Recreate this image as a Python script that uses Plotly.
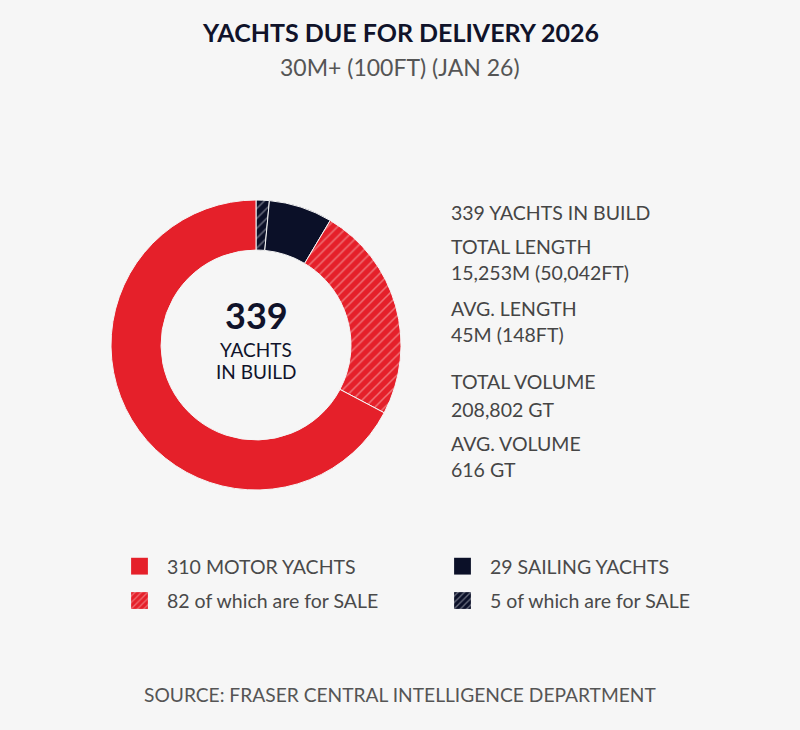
import plotly.graph_objects as go

# ---- data ----
slice_labels = ["Sailing yachts for sale", "Sailing yachts (other)", "Motor yachts for sale", "Motor yachts (other)"]
slice_values = [5, 24, 82, 228]
motor_total = 310
motor_sale = 82
sailing_total = 29
sailing_sale = 5
total_built = 339
stat_lines = ["339 YACHTS IN BUILD", "TOTAL LENGTH", "15,253M (50,042FT)", "AVG. LENGTH", "45M (148FT)",
              "TOTAL VOLUME", "208,802 GT", "AVG. VOLUME", "616 GT"]
stat_y_px = [213, 246, 272, 308, 334, 382, 409, 443, 469]

RED = "#e5202a"
NAVY = "#0b1028"
BG = "#f6f6f6"
W, H = 800, 730
FONT = "Lato"

fig = go.Figure()

# donut
cx, cy, r = 256, 345, 145
fig.add_trace(go.Pie(
    labels=slice_labels, values=slice_values, sort=False, direction="clockwise", rotation=0,
    hole=0.655, textinfo="none", showlegend=False,
    domain=dict(x=[(cx - r) / W, (cx + r) / W], y=[(H - cy - r) / H, (H - cy + r) / H]),
    marker=dict(colors=[NAVY, NAVY, RED, RED],
                line=dict(color=BG, width=1),
                pattern=dict(shape=["/", "", "/", ""], fgcolor=["#c8cad2", NAVY, "#f9c2c2", RED],
                             fillmode="overlay", size=7, solidity=0.22)),
))

# legend icon traces (zero-height bars on a hidden axis)
leg_items = [
    (f"{motor_total} MOTOR YACHTS", RED, "", RED, "legend"),
    (f"{motor_sale} of which are for SALE", RED, "/", "#f6b3b3", "legend"),
    (f"{sailing_total} SAILING YACHTS", NAVY, "", NAVY, "legend2"),
    (f"{sailing_sale} of which are for SALE", NAVY, "/", "#c8cad2", "legend2"),
]
for i, (name, col, shp, fg, lg) in enumerate(leg_items):
    fig.add_trace(go.Bar(x=[0], y=[0], name=name, legend=lg, legendgroup=str(i),
                         marker=dict(color=col, line=dict(width=0),
                                     pattern=dict(shape=shp, fgcolor=fg, fillmode="overlay", size=4, solidity=0.3)),
                         hoverinfo="skip"))

fig.update_xaxes(visible=False, domain=[0, 0.01])
fig.update_yaxes(visible=False, domain=[0, 0.01])

def py(px):
    return 1 - px / H

ann = []
ann.append(dict(x=0.5, y=py(32), text="<b>YACHTS DUE FOR DELIVERY 2026</b>", font=dict(size=25, color="#10132a")))
ann.append(dict(x=0.5, y=py(67), text="30M+ (100FT) (JAN 26)", font=dict(size=23, color="#555555")))
ann.append(dict(x=cx / W, y=py(315), text=f"<b>{total_built}</b>", font=dict(size=36, color="#10132a")))
ann.append(dict(x=cx / W, y=py(349), text="YACHTS", font=dict(size=19, color="#10132a")))
ann.append(dict(x=cx / W, y=py(371), text="IN BUILD", font=dict(size=19, color="#10132a")))
for t, yp in zip(stat_lines, stat_y_px):
    ann.append(dict(x=449 / W, y=py(yp), text=t, xanchor="left", font=dict(size=19.5, color="#454545")))
ann.append(dict(x=0.5, y=py(694), text="SOURCE: FRASER CENTRAL INTELLIGENCE DEPARTMENT", font=dict(size=19.2, color="#555555")))
for a in ann:
    a.setdefault("xanchor", "center")
    a.update(xref="paper", yref="paper", yanchor="middle", showarrow=False)
    a["font"]["family"] = FONT

leg_common = dict(orientation="v", yanchor="top", xanchor="left", bgcolor="rgba(0,0,0,0)",
                  font=dict(family=FONT, size=19.5, color="#4a4a4a"), tracegroupgap=6, itemwidth=45)
fig.update_layout(
    width=W, height=H, margin=dict(l=0, r=0, t=0, b=0),
    paper_bgcolor=BG, plot_bgcolor=BG,
    annotations=ann, showlegend=True,
    legend=dict(x=112 / W, y=py(547), **leg_common),
    legend2=dict(x=435 / W, y=py(547), **leg_common),
)
post = ("document.body.style.margin='0';document.body.style.background='%s';"
        "document.body.style.overflow='hidden';"
        "document.querySelectorAll('.legendpoints path').forEach(function(p){"
        "var t=p.getAttribute('transform')||'';p.setAttribute('transform',t+' scale(1.4)');});" % BG)
fig.write_html("out.html", post_script=post, config={"displayModeBar": False})
